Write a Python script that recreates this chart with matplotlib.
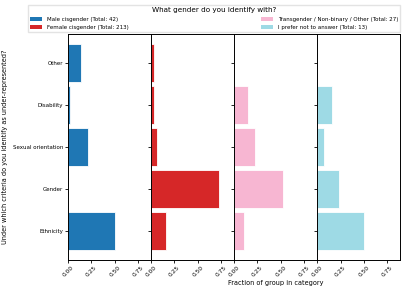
import matplotlib
matplotlib.use("Agg")
import matplotlib.pyplot as plt
from matplotlib.patches import Patch
import numpy as np

categories = ["Ethnicity", "Gender", "Sexual orientation", "Disability", "Other"]
groups = ["Male cisgender (Total: 42)", "Female cisgender (Total: 213)",
          "Transgender / Non-binary / Other (Total: 27)", "I prefer not to answer (Total: 13)"]
male = [0.500, 0.0, 0.214, 0.024, 0.143]
female = [0.155, 0.723, 0.061, 0.033, 0.028]
trans = [0.111, 0.519, 0.222, 0.148, 0.0]
noanswer = [0.50, 0.23, 0.077, 0.154, 0.0]
colors = ["#1f77b4", "#d62728", "#f7b6d2", "#9edae5"]
xticks = [0.0, 0.25, 0.5, 0.75]

series = [male, female, trans, noanswer]

fig = plt.figure(figsize=(4.07, 2.91), dpi=100)
left, right, bottom, top = 0.167, 0.983, 0.1065, 0.883
w = (right - left) / 4
axes = []
y = np.arange(len(categories))
for i, (vals, c, g) in enumerate(zip(series, colors, groups)):
    ax = fig.add_axes([left + i * w, bottom, w, top - bottom])
    ax.barh(y, vals, height=0.9, color=c, edgecolor="white", linewidth=0.6)
    ax.set_xlim(0, 0.885)
    ax.set_xticks(xticks)
    ax.set_xticklabels([f"{t:.2f}" for t in xticks], rotation=45, fontsize=4.2)
    ax.set_yticks(y)
    if i == 0:
        ax.set_yticklabels(categories, fontsize=4)
        ax.set_ylabel("Under which criteria do you identify as under-represented?", fontsize=4.7)
        ax.yaxis.set_label_coords(-0.72, 0.5)
    else:
        ax.set_yticklabels([])
    ax.set_ylim(-0.695, 4.695)
    ax.tick_params(length=2, width=0.6, pad=1.5)
    for s in ax.spines.values():
        s.set_linewidth(0.7)
    if i == 2:
        ax.set_xlabel("Fraction of group in category", fontsize=4.7, labelpad=1.5)
    axes.append(ax)

handles = [Patch(facecolor=c, edgecolor="none") for c in colors]
fig.legend(handles=handles, labels=groups, loc="lower left",
           bbox_to_anchor=(0.069, 0.89, 0.914, 0.1), mode="expand", ncol=2,
           fontsize=4, title="What gender do you identify with?", title_fontsize=5.2,
           frameon=True, borderaxespad=0, handlelength=2.2, handleheight=0.7,
           labelspacing=0.6, handletextpad=0.8, borderpad=0.35, fancybox=False,
           edgecolor="#dddddd")

fig.savefig("out.png", dpi=100)
